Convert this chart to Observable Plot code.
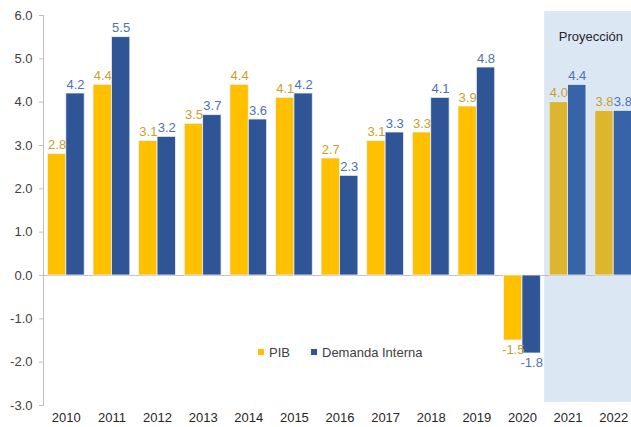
<!DOCTYPE html>
<html><head><meta charset="utf-8">
<script src="https://cdn.jsdelivr.net/npm/d3@7"></script>
<script src="https://cdn.jsdelivr.net/npm/@observablehq/plot@0.6"></script>
<style>
body{margin:0;background:#fff;font-family:"Liberation Sans",Arial,sans-serif;}
#wrap{position:relative;width:631px;height:427px;overflow:hidden;}
#legend{position:absolute;left:258px;top:344px;font-size:13px;color:#404040;white-space:nowrap;}
#legend span.item{position:absolute;top:0;display:flex;align-items:center;height:16px;}
#legend i{display:inline-block;width:6px;height:6px;margin-right:5px;}
</style></head><body><div id="wrap"><div id="legend"></div></div>
<script>
const years = ["2010","2011","2012","2013","2014","2015","2016","2017","2018","2019","2020","2021","2022"];
const pib = [2.8, 4.4, 3.1, 3.5, 4.4, 4.1, 2.7, 3.1, 3.3, 3.9, -1.5, 4.0, 3.8];
const demanda = [4.2, 5.5, 3.2, 3.7, 3.6, 4.2, 2.3, 3.3, 4.1, 4.8, -1.8, 4.4, 3.8];
const series = ["PIB", "Demanda Interna"];
const projectionYears = ["2021", "2022"];
const projectionLabel = "Proyección";
const yTicks = [-3, -2, -1, 0, 1, 2, 3, 4, 5, 6];

const barColors = {"PIB": "#FFC000", "Demanda Interna": "#2F5597"};
const projColors = {"PIB": "#DDB52F", "Demanda Interna": "#3763A8"};
const labelColors = {"PIB": "#C9A02C", "Demanda Interna": "#4A72B8"};

const data = years.flatMap((yr, i) => [
  {year: yr, series: series[0], value: pib[i]},
  {year: yr, series: series[1], value: demanda[i]}
]);

const W = 631, H = 427, mL = 43, mT = 15, mB = 22;
const fxRange = [43, 636];
const fxStep = (fxRange[1] - fxRange[0]) / years.length;
const fmt = d => d.toFixed(1);
const fillOf = d => projectionYears.includes(d.year) ? projColors[d.series] : barColors[d.series];
const shade = "#DCE7F4";

const chart = Plot.plot({
  width: W, height: H,
  marginLeft: mL, marginRight: 0, marginTop: mT, marginBottom: mB,
  style: {fontFamily: "'Liberation Sans', Arial, sans-serif", fontSize: "13px", color: "#404040", background: "transparent"},
  fx: {domain: years, padding: 0, range: fxRange, round: false, axis: null, label: null},
  x: {domain: series, paddingInner: 0, paddingOuter: 0.24, round: false, axis: null},
  y: {domain: [-3, 6], axis: null},
  color: {type: "identity"},
  marks: [
    Plot.barY(projectionYears, {fx: d => d, y1: -2.93, y2: 6.09, fill: shade, insetLeft: -0.6, insetRight: -0.6}),
    Plot.ruleY([0], {stroke: "#BFBFBF"}),
    Plot.ruleX(years, {fx: d => d, y1: 0, y2: -0.1, dx: -fxStep / 2, stroke: "#BFBFBF"}),
    Plot.barY(data, {fx: "year", x: "series", y: "value", fill: fillOf, stroke: "#EEF2F8", strokeWidth: 0.8}),
    Plot.text(data.filter(d => d.value >= 0), {fx: "year", x: "series", y: "value", text: d => fmt(d.value), fill: d => labelColors[d.series], lineAnchor: "bottom", dy: -5, fontSize: 13}),
    Plot.text(data.filter(d => d.value < 0), {fx: "year", x: "series", y: "value", text: d => fmt(d.value), fill: d => labelColors[d.series], lineAnchor: "top", dy: 4, fontSize: 13}),
    Plot.text([projectionLabel], {fx: () => projectionYears[1], text: d => d, frameAnchor: "top", dy: 16, dx: -fxStep / 2, fill: "#262626", fontSize: 13}),
    Plot.frame({anchor: "left", stroke: "#BFBFBF", facetAnchor: "left"}),
    Plot.axisY({ticks: yTicks, tickFormat: fmt, tickSize: 4, tickPadding: 7, stroke: "#BFBFBF", fill: "#404040", fontSize: 13, label: null}),
    Plot.axisFx({anchor: "bottom", tickSize: 0, tickPadding: 7, fill: "#262626", fontSize: 13, label: null})
  ]
});
document.getElementById("wrap").prepend(chart);

const legend = document.getElementById("legend");
const legendOffsets = [0, 53];
series.forEach((s, i) => {
  const item = document.createElement("span");
  item.className = "item";
  item.style.left = legendOffsets[i] + "px";
  item.innerHTML = `<i style="background:${barColors[s]}"></i>${s}`;
  legend.appendChild(item);
});
</script>
</body></html>
